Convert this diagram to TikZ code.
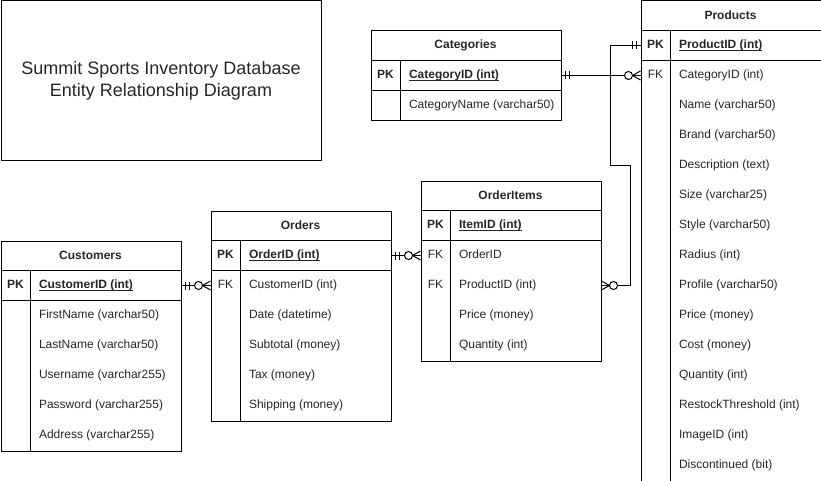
\documentclass[tikz,border=0pt]{standalone}
\usepackage{fontspec}
\setmainfont{Liberation Sans}
\usetikzlibrary{positioning,calc}

\newcommand\keyline[1]{\setbox0\hbox{#1}\rlap{\rule[-1.3pt]{\wd0}{0.55pt}}\box0}

\tikzset{
  mandone/.pic={\draw (4,-4) -- (4,4) (8,-4) -- (8,4);},
  zeromany/.pic={\draw (0,-4.5) -- (8,0) -- (0,4.5); \draw[fill=white] (12,0) circle[radius=4];}
}

\begin{document}
\begin{tikzpicture}[
    x=0.75pt, y=-0.75pt,
    line width=0.75pt,
    font=\fontsize{9}{11}\selectfont,
    tblframe/.style={draw, inner sep=0pt, anchor=north west},
    tblhead/.style={font=\fontsize{9}{11}\selectfont\bfseries, text=black!85},
    keycell/.style={text=black!85, text height=7pt, text depth=2pt},
    pkcell/.style={keycell, font=\fontsize{9}{11}\selectfont\bfseries},
    fieldcell/.style={anchor=west, inner sep=0pt, text=black!85, text height=7pt, text depth=2pt},
    pkfield/.style={fieldcell, font=\fontsize{9}{11}\selectfont\bfseries},
    rel/.style={line width=0.75pt}
  ]
  \useasboundingbox (-0.5,-0.5) rectangle (820.5,480.5);

  % title
  \node[tblframe, minimum width=240pt, minimum height=120pt] (title) at (0,0) {};
  \node[align=center, text=black!85, font=\fontsize{13.5}{16}\selectfont] (title-text) at (title.center)
    {Summit Sports Inventory Database\\Entity Relationship Diagram};

  % Categories
  \node[tblframe, minimum width=142.5pt, minimum height=67.5pt] (cat) at (370,30) {};
  \draw (370,60) -- (560,60) (370,90) -- (560,90) (400,60) -- (400,120);
  \node[tblhead] (cat-head) at (465,45) {Categories};
  \node[pkcell] (cat-pk) at (385,75) {PK};
  \node[pkfield] (cat-id) at (408,75) {\keyline{CategoryID (int)}};
  \node[fieldcell] (cat-1) at (408,105) {CategoryName (varchar50)};

  % Products
  \node[tblframe, minimum width=135pt, minimum height=360pt] (prod) at (640,0) {};
  \draw (640,30) -- (820,30) (640,60) -- (820,60) (670,30) -- (670,480);
  \node[tblhead] (prod-head) at (730,15) {Products};
  \node[pkcell] (prod-pk) at (655,45) {PK};
  \node[pkfield] (prod-id) at (678,45) {\keyline{ProductID (int)}};
  \node[keycell] (prod-fk) at (655,75) {FK};
  \foreach \f [count=\i] in {CategoryID (int), Name (varchar50), Brand (varchar50),
      Description (text), Size (varchar25), Style (varchar50), Radius (int),
      Profile (varchar50), Price (money), Cost (money), Quantity (int),
      RestockThreshold (int), ImageID (int), Discontinued (bit)}
    \node[fieldcell] (prod-\i) at (678,45+30*\i) {\f};

  % OrderItems
  \node[tblframe, minimum width=135pt, minimum height=135pt] (items) at (420,180) {};
  \draw (420,210) -- (600,210) (420,240) -- (600,240) (450,210) -- (450,360);
  \node[tblhead] (items-head) at (510,195) {OrderItems};
  \node[pkcell] (items-pk) at (435,225) {PK};
  \node[pkfield] (items-id) at (458,225) {\keyline{ItemID (int)}};
  \node[keycell] (items-fk1) at (435,255) {FK};
  \node[keycell] (items-fk2) at (435,285) {FK};
  \foreach \f [count=\i] in {OrderID, ProductID (int), Price (money), Quantity (int)}
    \node[fieldcell] (items-\i) at (458,225+30*\i) {\f};

  % Orders
  \node[tblframe, minimum width=135pt, minimum height=157.5pt] (ord) at (210,210) {};
  \draw (210,240) -- (390,240) (210,270) -- (390,270) (240,240) -- (240,420);
  \node[tblhead] (ord-head) at (300,225) {Orders};
  \node[pkcell] (ord-pk) at (225,255) {PK};
  \node[pkfield] (ord-id) at (248,255) {\keyline{OrderID (int)}};
  \node[keycell] (ord-fk) at (225,285) {FK};
  \foreach \f [count=\i] in {CustomerID (int), Date (datetime), Subtotal (money),
      Tax (money), Shipping (money)}
    \node[fieldcell] (ord-\i) at (248,255+30*\i) {\f};

  % Customers
  \node[tblframe, minimum width=135pt, minimum height=157.5pt] (cust) at (0,240) {};
  \draw (0,270) -- (180,270) (0,300) -- (180,300) (30,270) -- (30,450);
  \node[tblhead] (cust-head) at (90,255) {Customers};
  \node[pkcell] (cust-pk) at (15,285) {PK};
  \node[pkfield] (cust-id) at (38,285) {\keyline{CustomerID (int)}};
  \foreach \f [count=\i] in {FirstName (varchar50), LastName (varchar50),
      Username (varchar255), Password (varchar255), Address (varchar255)}
    \node[fieldcell] (cust-\i) at (38,285+30*\i) {\f};

  % relationships
  \draw[rel] (cat-id -| cat.east) -- (prod-1 -| prod.west);
  \draw[rel] (prod-id -| prod.west) -- ++(-30,0) -- ++(0,120) -- ++(20,0) |- (items-2 -| items.east);
  \draw[rel] (ord-id -| ord.east) -- (items-1 -| items.west);
  \draw[rel] (cust-id -| cust.east) -- (ord-1 -| ord.west);

  \pic at (cat-id -| cat.east) {mandone};
  \pic[xscale=-1] at (prod-1 -| prod.west) {zeromany};
  \pic[xscale=-1] at (prod-id -| prod.west) {mandone};
  \pic at (items-2 -| items.east) {zeromany};
  \pic at (ord-id -| ord.east) {mandone};
  \pic[xscale=-1] at (items-1 -| items.west) {zeromany};
  \pic at (cust-id -| cust.east) {mandone};
  \pic[xscale=-1] at (ord-1 -| ord.west) {zeromany};
\end{tikzpicture}
\end{document}
